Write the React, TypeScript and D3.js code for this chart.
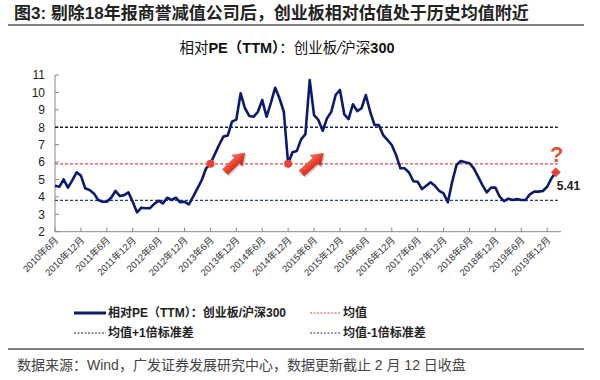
import React from 'react';
import * as d3 from 'd3';

// ---------- data ----------
// monthly relative PE (ChiNext / CSI300), starting 2010-06
const ratio: number[] = [
  4.64, 4.58, 5.01, 4.53, 4.95, 5.41, 5.22, 4.49, 4.40, 4.20,
  3.82, 3.72, 3.72, 3.95, 4.34, 4.05, 4.10, 4.26, 3.72, 3.11,
  3.38, 3.35, 3.35, 3.60, 3.78, 3.62, 3.95, 3.82, 3.95, 3.69,
  3.72, 3.57, 4.01, 4.49, 4.97, 5.64, 5.90, 6.44, 6.98, 7.46,
  7.52, 8.32, 8.44, 9.95, 9.09, 8.65, 8.60, 8.89, 9.56, 8.60,
  9.40, 10.27, 9.66, 8.89, 5.90, 6.56, 6.63, 7.30, 7.60, 10.71,
  8.70, 8.42, 7.80, 8.51, 8.89, 9.85, 10.14, 8.74, 8.47, 9.32,
  8.93, 9.09, 9.85, 8.89, 8.13, 8.13, 7.55, 7.27, 6.98, 6.41,
  5.64, 5.64, 5.40, 4.90, 4.87, 4.45, 4.64, 4.84, 4.64, 4.34,
  4.20, 3.69, 4.87, 5.83, 6.06, 5.99, 5.93, 5.64, 5.16, 4.68,
  4.26, 4.53, 4.53, 4.01, 3.76, 3.90, 3.82, 3.87, 3.82, 3.82,
  4.15, 4.30, 4.30, 4.34, 4.58, 5.07, 5.41,
];
const meanValue = 5.9;
const upperValue = 8.0;
const lowerValue = 3.8;
const yTicks = [2, 3, 4, 5, 6, 7, 8, 9, 10, 11];
const xTickLabels = [
  '2010年6月', '2010年12月', '2011年6月', '2011年12月', '2012年6月', '2012年12月',
  '2013年6月', '2013年12月', '2014年6月', '2014年12月', '2015年6月', '2015年12月',
  '2016年6月', '2016年12月', '2017年6月', '2017年12月', '2018年6月', '2018年12月',
  '2019年6月', '2019年12月',
];
const xTickMonths = xTickLabels.map((_, i) => i * 6);
const crossIdx = [36, 54];
const arrowsFrom = [[39.4, 5.43], [57.1, 5.35]];
const arrowsTo = [[44.0, 6.52], [62.2, 6.50]];
const lastLabel = '5.41';

const title = '图3: 剔除18年报商誉减值公司后，创业板相对估值处于历史均值附近';
const footer = '数据来源：Wind，广发证券发展研究中心，数据更新截止 2 月 12 日收盘';

const FONT = "'Liberation Sans', Arial, 'Noto Sans CJK SC', sans-serif";
const NAVY = '#0c1a6b';
const RED = '#e2453a';

export default function App() {
  const W = 600, H = 380;
  const x = d3.scaleLinear().domain([0, 117.2]).range([55, 561]);
  const y = d3.scaleLinear().domain([2, 11]).range([231.7, 75]);
  const line = d3.line<number>().x((_, i) => x(i)).y(d => y(d));
  const lastI = ratio.length - 1;
  const refX1 = x(0), refX2 = x(lastI) + 2;

  const arrowShape = (len: number) => {
    const hl = 11, hw = 7.5, bw = 3.8;
    return `M0,${-bw} L${len - hl},${-bw} L${len - hl},${-hw} L${len},0 L${len - hl},${hw} L${len - hl},${bw} L0,${bw} Z`;
  };

  return (
    <svg width={W} height={H} style={{ position: 'absolute', left: 0, top: 0, background: '#fff' }}
      fontFamily={FONT}>
      <defs>
        <linearGradient id="arrowGrad" x1="0" y1="0" x2="0" y2="1">
          <stop offset="0" stopColor="#ff7a5c" />
          <stop offset="0.5" stopColor="#e8432e" />
          <stop offset="1" stopColor="#b8231a" />
        </linearGradient>
      </defs>
      {/* header */}
      <text x={14} y={19} fontSize={17} fontWeight="bold" fill="#222">{title}</text>
      <line x1={8} x2={584} y1={25} y2={25} stroke="#555" strokeWidth={1.3} />

      {/* chart title */}
      <text x={287} y={53} fontSize={14.5} textAnchor="middle" fill="#111">
        <tspan>相对</tspan>
        <tspan fontWeight="bold">PE（TTM）</tspan>
        <tspan>：创业板</tspan>
        <tspan fontStyle="italic">/</tspan>
        <tspan>沪深</tspan>
        <tspan fontWeight="bold">300</tspan>
      </text>

      {/* axes */}
      <line x1={55} x2={55} y1={y(11)} y2={y(2)} stroke="#888" strokeWidth={1} />
      <line x1={55} x2={561} y1={y(2)} y2={y(2)} stroke="#888" strokeWidth={1} />
      {yTicks.map(t => (
        <g key={'y' + t}>
          <line x1={55} x2={59} y1={y(t)} y2={y(t)} stroke="#888" />
          <text x={45} y={y(t)} dy="0.36em" fontSize={12} textAnchor="end" fill="#222">{t}</text>
        </g>
      ))}
      {xTickMonths.map((m, i) => (
        <g key={'x' + m}>
          <line x1={x(m)} x2={x(m)} y1={y(2)} y2={y(2) - 4} stroke="#888" />
          <text transform={`translate(${x(m) + 4},${y(2) + 9}) rotate(-45)`} fontSize={9.5}
            textAnchor="end" fill="#333">{xTickLabels[i]}</text>
        </g>
      ))}

      {/* reference lines */}
      <line x1={refX1} x2={refX2} y1={y(upperValue)} y2={y(upperValue)} stroke="#1c1f3a" strokeWidth={1.3} strokeDasharray="3,2" />
      <line x1={refX1} x2={refX2} y1={y(meanValue)} y2={y(meanValue)} stroke="#e04848" strokeWidth={1.3} strokeDasharray="3,2" />
      <line x1={refX1} x2={refX2} y1={y(lowerValue)} y2={y(lowerValue)} stroke="#2a3a80" strokeWidth={1.3} strokeDasharray="3,2" />

      {/* series */}
      <path d={line(ratio) || ''} fill="none" stroke={NAVY} strokeWidth={2.6} strokeLinejoin="round" />

      {crossIdx.map(i => (
        <circle key={'c' + i} cx={x(i)} cy={y(meanValue)} r={4} fill={RED} />
      ))}

      {/* arrows */}
      {arrowsFrom.map((f, i) => {
        const x0 = x(f[0]), y0 = y(f[1]), x1 = x(arrowsTo[i][0]), y1 = y(arrowsTo[i][1]);
        const len = Math.hypot(x1 - x0, y1 - y0);
        const ang = Math.atan2(y1 - y0, x1 - x0) * 180 / Math.PI;
        return (
          <g key={'a' + i}>
            <path d={arrowShape(len)} transform={`translate(${x0 + 1.5},${y0 + 1.5}) rotate(${ang})`} fill="rgba(0,0,0,0.18)" />
            <path d={arrowShape(len)} transform={`translate(${x0},${y0}) rotate(${ang})`} fill="url(#arrowGrad)" stroke="#c33" strokeWidth={0.4} />
          </g>
        );
      })}

      {/* last point */}
      <rect x={x(lastI) - 3.5} y={y(ratio[lastI]) - 3.5} width={7} height={7} fill={RED}
        transform={`rotate(45,${x(lastI)},${y(ratio[lastI])})`} />
      <text x={x(lastI) + 1} y={y(ratio[lastI]) - 10} fontSize={22} fontWeight="bold" textAnchor="middle" fill="#e0533f">?</text>
      <text x={x(lastI) + 1} y={y(ratio[lastI]) + 18} fontSize={12} fontWeight="bold" fill="#222">{lastLabel}</text>

      {/* legend */}
      <line x1={74} x2={106} y1={313} y2={313} stroke={NAVY} strokeWidth={3} />
      <text x={108} y={317} fontSize={12} fontWeight="bold" fill="#222">相对PE（TTM）：创业板/沪深300</text>
      <line x1={310} x2={341} y1={313} y2={313} stroke="#e04848" strokeWidth={1.2} strokeDasharray="2,1.5" />
      <text x={343} y={317} fontSize={12} fontWeight="bold" fill="#222">均值</text>
      <line x1={74} x2={106} y1={333} y2={333} stroke="#1c1f3a" strokeWidth={1.2} strokeDasharray="2,1.5" />
      <text x={108} y={337} fontSize={12} fontWeight="bold" fill="#222">均值+1倍标准差</text>
      <line x1={310} x2={341} y1={333} y2={333} stroke="#2a3a80" strokeWidth={1.2} strokeDasharray="2,1.5" />
      <text x={343} y={337} fontSize={12} fontWeight="bold" fill="#222">均值-1倍标准差</text>

      {/* footer */}
      <line x1={8} x2={584} y1={349} y2={349} stroke="#555" strokeWidth={1.3} />
      <text x={17} y={370} fontSize={14} fill="#444">{footer}</text>
    </svg>
  );
}
